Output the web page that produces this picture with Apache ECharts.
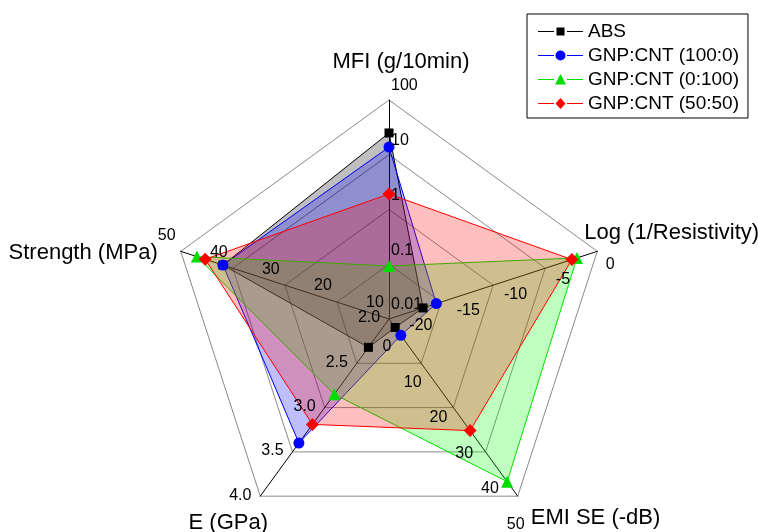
<!DOCTYPE html>
<html>
<head>
<meta charset="utf-8">
<script src="https://cdn.jsdelivr.net/npm/echarts@6/dist/echarts.min.js"></script>
<style>
  html, body { margin: 0; padding: 0; background: #fff; }
  #chart { width: 758px; height: 532px; }
</style>
</head>
<body>
<div id="chart"></div>
<script>
// Property axes, listed clockwise starting from the top
const axisNames = ['MFI (g/10min)', 'Log (1/Resistivity)', 'EMI SE (-dB)', 'E (GPa)', 'Strength (MPa)'];
const axisMin = [0.01, -22, 0, 2, 10];
const axisMax = [100, 0, 50, 4, 50];

// Tick labels per axis (MFI is on a log scale)
const mfiTicks = ['0.01', '0.1', '1', '10', '100'];
const logTicks = ['-20', '-15', '-10', '-5', '0'];
const emiTicks = ['0', '10', '20', '30', '40', '50'];
const modulusTicks = ['2.0', '2.5', '3.0', '3.5', '4.0'];
const strengthTicks = ['10', '20', '30', '40', '50'];

// Measured properties, same axis order as axisNames
const seriesNames = ['ABS', 'GNP:CNT (100:0)', 'GNP:CNT (0:100)', 'GNP:CNT (50:50)'];
const absValues = [25, -18.4, 2.4, 2.32, 41.9];
const gnp100Values = [13.8, -17.0, 4.6, 3.40, 41.9];
const cnt100Values = [0.093, -2.15, 45.9, 2.85, 46.9];
const hybridValues = [1.92, -2.68, 31.5, 3.19, 45.3];

const FONT = '"Liberation Sans", Arial, sans-serif';

// ECharts places radar indicators counterclockwise; reorder so the axes run clockwise.
const ORDER = [0, 4, 3, 2, 1];
function axisValue(axis, v) {
  if (v === '-' || v == null) return '-';
  return axis === 0 ? Math.log10(v) : v;
}
function radarVector(vals) {
  return ORDER.map(a => axisValue(a, vals[a]));
}

const indicator = ORDER.map(a => ({
  name: axisNames[a],
  min: axisValue(a, axisMin[a]),
  max: axisValue(a, axisMax[a])
}));

const styles = [
  { color: '#000000', fill: 'rgba(0,0,0,0.25)', symbol: 'rect', size: 9 },
  { color: '#0000ff', fill: 'rgba(0,0,255,0.25)', symbol: 'circle', size: 11 },
  { color: '#00dd00', fill: 'rgba(0,255,0,0.25)', symbol: 'triangle', size: 12 },
  { color: '#ff0000', fill: 'rgba(255,0,0,0.25)', symbol: 'diamond', size: 13 }
];
const valueSets = [absValues, gnp100Values, cnt100Values, hybridValues];

const series = valueSets.map((vals, k) => ({
  type: 'radar',
  name: seriesNames[k],
  symbol: styles[k].symbol,
  symbolSize: styles[k].size,
  itemStyle: { color: styles[k].color, borderWidth: 0 },
  lineStyle: { color: styles[k].color, width: 1 },
  areaStyle: { color: styles[k].fill, opacity: 1 },
  emphasis: { disabled: true },
  silent: true,
  z: 2,
  data: [{ name: seriesNames[k], value: radarVector(vals) }]
}));

// Tick labels and axis titles, placed at their values on each indicator axis
const tickLists = [mfiTicks, logTicks, emiTicks, modulusTicks, strengthTicks];
const tickLabel = [
  { align: 'left', offset: [2, -14] },
  { align: 'center', offset: [13, 13] },
  { align: 'center', offset: [-2, 28] },
  { align: 'center', offset: [-20, -1] },
  { align: 'center', offset: [-14, -16] }
];
const titleLabel = [
  { align: 'center', offset: [12, -38] },
  { align: 'left', offset: [-13, -18] },
  { align: 'left', offset: [13, 22] },
  { align: 'center', offset: [-32, 27] },
  { align: 'right', offset: [-23, 2] }
];
tickLists.forEach((ticks, axis) => {
  const data = ticks.map(t => {
    const vals = ['-', '-', '-', '-', '-'];
    vals[axis] = Number(t);
    return { name: t, value: radarVector(vals) };
  });
  const tv = ['-', '-', '-', '-', '-'];
  tv[axis] = axisMax[axis];
  data.push({
    name: axisNames[axis],
    value: radarVector(tv),
    label: Object.assign({ fontSize: 22 }, titleLabel[axis])
  });
  series.push({
    type: 'radar',
    silent: true,
    symbol: 'circle',
    symbolSize: 1,
    itemStyle: { color: 'transparent', borderWidth: 0 },
    lineStyle: { width: 0, opacity: 0 },
    emphasis: { disabled: true },
    z: 5,
    label: Object.assign({
      show: true,
      position: 'inside',
      verticalAlign: 'middle',
      fontFamily: FONT,
      fontSize: 16,
      color: '#000',
      formatter: p => {
        let v = p.value;
        if (Array.isArray(v)) v = v[p.dimensionIndex];
        return (v === '-' || v == null || isNaN(v)) ? '' : p.name;
      }
    }, tickLabel[axis]),
    data: data
  });
});

// Legend icons: a short line with the series marker in the middle
const speck = 'M0 0L0.01 0L0 0.01ZM45 12L44.99 12L45 11.99Z';
const lineParts = 'M0 5.5L16 5.5L16 6.5L0 6.5ZM29 5.5L45 5.5L45 6.5L29 6.5Z';
const markerPaths = [
  'M18.5 2L26.5 2L26.5 10L18.5 10Z',
  'M17.5 6A5 5 0 1 0 27.5 6A5 5 0 1 0 17.5 6Z',
  'M22.5 0.5L28 11L17 11Z',
  'M22.5 0.5L27.5 6L22.5 11.5L17.5 6Z'
];
const legendData = seriesNames.map((n, k) => ({
  name: n,
  icon: 'path://' + speck + lineParts + markerPaths[k]
}));

const chart = echarts.init(document.getElementById('chart'), null, { renderer: 'canvas' });
chart.setOption({
  animation: false,
  backgroundColor: '#fff',
  radar: {
    center: [389, 319],
    radius: 219,
    startAngle: 90,
    splitNumber: 4,
    shape: 'polygon',
    indicator: indicator,
    axisName: { show: false },
    axisLabel: { show: false },
    axisTick: { show: false },
    axisLine: { show: true, lineStyle: { color: '#000', width: 1 } },
    splitLine: { show: true, lineStyle: { color: '#8a8a8a', width: 1 } },
    splitArea: { show: false }
  },
  legend: {
    data: legendData,
    orient: 'vertical',
    left: 527,
    top: 14,
    padding: [8, 9, 5, 11],
    itemGap: 5,
    itemWidth: 45,
    itemHeight: 12,
    selectedMode: false,
    borderColor: '#000',
    borderWidth: 1,
    borderRadius: 0,
    backgroundColor: '#fff',
    itemStyle: { borderWidth: 0 },
    textStyle: { fontFamily: FONT, fontSize: 19, color: '#000', lineHeight: 19 }
  },
  series: series
});
</script>
</body>
</html>
